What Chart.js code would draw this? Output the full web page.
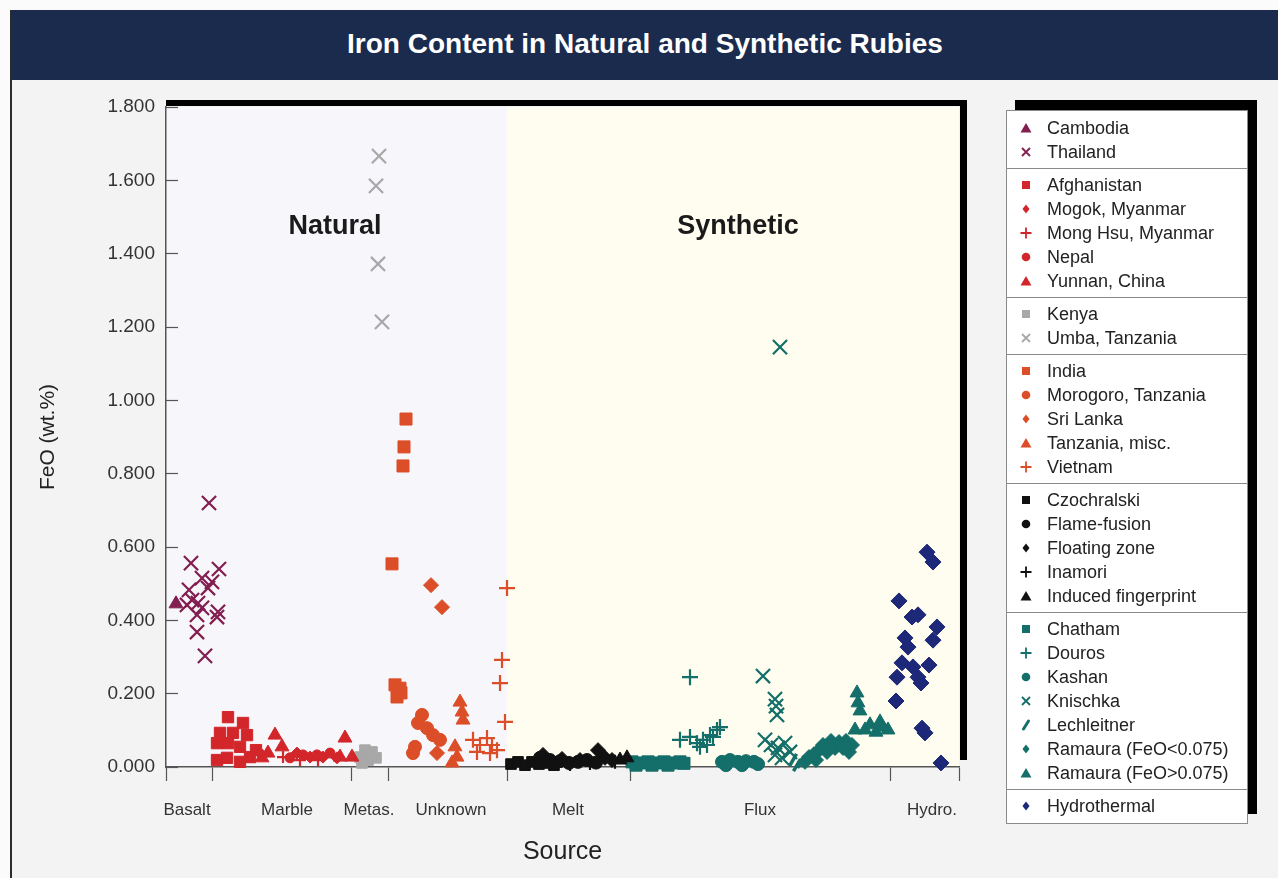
<!DOCTYPE html>
<html>
<head>
<meta charset="utf-8">
<title>Iron Content in Natural and Synthetic Rubies</title>
<script src="https://cdn.jsdelivr.net/npm/chart.js@4.4.1/dist/chart.umd.min.js"></script>
<style>
html, body { margin: 0; padding: 0; }
body { width: 1278px; height: 878px; position: relative; overflow: hidden; background: #fbfbfb;
  font-family: "Liberation Sans", Arial, Helvetica, sans-serif; }
#page { position: absolute; left: 10px; top: 10px; right: 0; bottom: 0; background: #f3f3f3; border-left: 2px solid #2b2b2b; }
#titlebar { position: absolute; left: 12px; top: 10px; width: 1266px; height: 70px; background: #1b2b4d;
  color: #fff; font-weight: bold; font-size: 28px; text-align: center; line-height: 68px; z-index: 2; }
#chart { position: absolute; left: 0; top: 0; z-index: 1; }
.region { position: absolute; top: 212px; font-size: 27px; line-height: 27px; font-weight: bold; color: #1a1a1a;
  transform: translateX(-50%); z-index: 2; }
#legend { position: absolute; left: 1006px; top: 110px; width: 240px; background: #fff; border: 1px solid #8a8a8a;
  box-shadow: 9px -10px 0 #000; z-index: 2; }
.grp { padding: 4px 0; border-top: 1px solid #8a8a8a; }
.grp:first-child { border-top: none; padding-top: 5px; }
.grp:last-child { padding-bottom: 5px; }
.row { height: 24px; display: flex; align-items: center; font-size: 18px; color: #222; white-space: nowrap; }
.row svg { width: 14px; height: 14px; margin-left: 12px; margin-right: 14px; flex: none; }
</style>
</head>
<body>
<div id="page"></div>
<div id="titlebar">Iron Content in Natural and Synthetic Rubies</div>
<canvas id="chart" width="1278" height="878"></canvas>
<div class="region" style="left:335px">Natural</div>
<div class="region" style="left:738px">Synthetic</div>
<div id="legend"></div>

<script>
// x axis: position along the source axis, y: FeO wt.%
const sourceLabels = ['Basalt', 'Marble', 'Metas.', 'Unknown', 'Melt', 'Flux', 'Hydro.'];
const labelPos = [21, 121, 203, 285, 402, 594, 766];
const boundaries = [0, 46, 185, 222, 341, 464, 724, 793];
const naturalEnd = 341;
const yTicks = [0, 0.2, 0.4, 0.6, 0.8, 1.0, 1.2, 1.4, 1.6, 1.8];

// Basalt
const cambodiaX = [10];
const cambodiaY = [0.445];
const thailandX = [43, 25, 53, 36, 46, 42, 23, 26, 32, 21, 36, 31, 51, 52, 31, 39];
const thailandY = [0.720, 0.556, 0.540, 0.515, 0.505, 0.488, 0.483, 0.455, 0.447, 0.442, 0.434, 0.415, 0.409, 0.423, 0.368, 0.303];

// Marble
const afghanX = [62, 77, 54, 67, 81, 51, 62, 74, 51, 61, 84, 74, 90];
const afghanY = [0.136, 0.120, 0.093, 0.093, 0.087, 0.065, 0.065, 0.055, 0.019, 0.025, 0.027, 0.014, 0.046];
const mogokX = [96, 131, 144, 157, 171];
const mogokY = [0.033, 0.038, 0.027, 0.027, 0.025];
const mongHsuX = [117, 134, 152];
const mongHsuY = [0.027, 0.019, 0.019];
const nepalX = [137, 151, 164, 124];
const nepalY = [0.033, 0.033, 0.038, 0.025];
const yunnanX = [109, 102, 116, 179, 174, 186, 96];
const yunnanY = [0.087, 0.038, 0.055, 0.079, 0.027, 0.027, 0.025];

// Metasomatic
const kenyaX = [194, 202, 206, 199, 210, 196];
const kenyaY = [0.027, 0.019, 0.041, 0.046, 0.025, 0.011];
const umbaX = [213, 210, 212, 216];
const umbaY = [1.666, 1.585, 1.372, 1.214];

// Unknown
const indiaX = [240, 238, 237, 226, 229, 234, 231, 235];
const indiaY = [0.949, 0.873, 0.821, 0.554, 0.224, 0.215, 0.191, 0.202];
const morogoroX = [256, 252, 261, 267, 274, 249, 247];
const morogoroY = [0.142, 0.120, 0.106, 0.087, 0.074, 0.055, 0.038];
const sriLankaX = [265, 276, 271];
const sriLankaY = [0.496, 0.436, 0.038];
const tanzaniaX = [294, 296, 297, 289, 291, 286];
const tanzaniaY = [0.177, 0.150, 0.128, 0.055, 0.027, 0.011];
const vietnamX = [341, 336, 334, 339, 307, 314, 321, 326, 311, 324, 331];
const vietnamY = [0.488, 0.292, 0.229, 0.123, 0.074, 0.060, 0.079, 0.060, 0.041, 0.038, 0.046];

// Melt
const czochX = [345, 352, 359, 366, 373, 380, 388];
const czochY = [0.008, 0.014, 0.005, 0.014, 0.008, 0.011, 0.005];
const flameX = [374, 384, 394, 403, 412, 421, 430];
const flameY = [0.025, 0.019, 0.016, 0.011, 0.014, 0.019, 0.012];
const floatX = [377, 432, 439, 414, 446, 396];
const floatY = [0.033, 0.046, 0.025, 0.019, 0.019, 0.022];
const inamoriX = [424, 449, 404];
const inamoriY = [0.011, 0.014, 0.008];
const inducedX = [454, 461];
const inducedY = [0.019, 0.025];

// Flux
const chathamX = [466, 474, 482, 490, 498, 506, 514, 518, 470, 486, 502];
const chathamY = [0.014, 0.011, 0.014, 0.011, 0.014, 0.011, 0.014, 0.010, 0.005, 0.005, 0.005];
const dourosX = [524, 514, 524, 531, 537, 544, 551, 554, 534, 541, 547];
const dourosY = [0.245, 0.074, 0.082, 0.065, 0.074, 0.087, 0.101, 0.109, 0.055, 0.060, 0.082];
const kashanX = [556, 564, 572, 580, 588, 560, 576, 592];
const kashanY = [0.014, 0.019, 0.014, 0.016, 0.014, 0.005, 0.005, 0.008];
const knischkaX = [614, 597, 609, 610, 611, 599, 605, 612, 619, 624, 609, 616];
const knischkaY = [1.145, 0.248, 0.185, 0.166, 0.142, 0.074, 0.060, 0.052, 0.065, 0.041, 0.033, 0.025];
const lechX = [627, 631, 635];
const lechY = [0.019, 0.005, 0.014];
const ramLowX = [639, 643, 648, 653, 657, 661, 665, 669, 673, 677, 680, 683, 686, 650];
const ramLowY = [0.014, 0.027, 0.035, 0.046, 0.060, 0.041, 0.071, 0.052, 0.068, 0.052, 0.071, 0.041, 0.060, 0.019];
const ramHighX = [691, 692, 694, 689, 699, 704, 710, 716, 722, 714];
const ramHighY = [0.202, 0.175, 0.153, 0.101, 0.101, 0.115, 0.095, 0.109, 0.101, 0.123];

// Hydrothermal
const hydroX = [761, 767, 733, 746, 752, 771, 767, 739, 742, 763, 736, 747, 731, 752, 755, 730, 756, 759, 775];
const hydroY = [0.586, 0.559, 0.453, 0.409, 0.415, 0.382, 0.346, 0.352, 0.327, 0.278, 0.284, 0.273, 0.245, 0.245, 0.229, 0.180, 0.106, 0.093, 0.011];

const maroon = '#821e50', red = '#d2262a', grey = '#a8a8a8', orange = '#dc4e28',
  black = '#111111', teal = '#146e69', navy = '#1e2878';

const radius = { rect: 8, rectRot: 7.5, triangle: 8, crossRot: 10, cross: 8, circle: 6.5, line: 7 };
const stroked = ['cross', 'crossRot', 'line'];

function series(label, xs, ys, color, style, group, r) {
  return {
    label, group,
    data: xs.map((x, i) => ({ x, y: ys[i] })),
    pointStyle: style,
    pointRadius: r || radius[style],
    pointRotation: style === 'line' ? -60 : 0,
    backgroundColor: color,
    borderColor: color,
    borderWidth: style === 'line' ? 3.5 : (stroked.includes(style) ? 2.2 : 1),
    clip: false,
  };
}

const datasets = [
  series('Cambodia', cambodiaX, cambodiaY, maroon, 'triangle', 0),
  series('Thailand', thailandX, thailandY, maroon, 'crossRot', 0),
  series('Afghanistan', afghanX, afghanY, red, 'rect', 1),
  series('Mogok, Myanmar', mogokX, mogokY, red, 'rectRot', 1, 6),
  series('Mong Hsu, Myanmar', mongHsuX, mongHsuY, red, 'cross', 1, 6),
  series('Nepal', nepalX, nepalY, red, 'circle', 1, 5),
  series('Yunnan, China', yunnanX, yunnanY, red, 'triangle', 1),
  series('Kenya', kenyaX, kenyaY, grey, 'rect', 2, 7.5),
  series('Umba, Tanzania', umbaX, umbaY, grey, 'crossRot', 2),
  series('India', indiaX, indiaY, orange, 'rect', 3, 8.5),
  series('Morogoro, Tanzania', morogoroX, morogoroY, orange, 'circle', 3),
  series('Sri Lanka', sriLankaX, sriLankaY, orange, 'rectRot', 3),
  series('Tanzania, misc.', tanzaniaX, tanzaniaY, orange, 'triangle', 3),
  series('Vietnam', vietnamX, vietnamY, orange, 'cross', 3),
  series('Czochralski', czochX, czochY, black, 'rect', 4, 7.5),
  series('Flame-fusion', flameX, flameY, black, 'circle', 4, 6.5),
  series('Floating zone', floatX, floatY, black, 'rectRot', 4, 7.5),
  series('Inamori', inamoriX, inamoriY, black, 'cross', 4, 7),
  series('Induced fingerprint', inducedX, inducedY, black, 'triangle', 4, 8),
  series('Chatham', chathamX, chathamY, teal, 'rect', 5, 8.5),
  series('Douros', dourosX, dourosY, teal, 'cross', 5),
  series('Kashan', kashanX, kashanY, teal, 'circle', 5, 6.5),
  series('Knischka', knischkaX, knischkaY, teal, 'crossRot', 5),
  series('Lechleitner', lechX, lechY, teal, 'line', 5),
  series('Ramaura (FeO<0.075)', ramLowX, ramLowY, teal, 'rectRot', 5),
  series('Ramaura (FeO>0.075)', ramHighX, ramHighY, teal, 'triangle', 5),
  series('Hydrothermal', hydroX, hydroY, navy, 'rectRot', 6, 8),
];

// shaded natural / synthetic halves plus the black drop shadow of the panel
const panel = {
  id: 'panel',
  beforeDraw(chart) {
    const { ctx, chartArea: a, scales: { x } } = chart;
    const split = x.getPixelForValue(naturalEnd);
    ctx.save();
    ctx.fillStyle = '#f7f6fb';
    ctx.fillRect(a.left, a.top, split - a.left, a.bottom - a.top);
    ctx.fillStyle = '#fefdf0';
    ctx.fillRect(split, a.top, a.right - split, a.bottom - a.top);
    ctx.fillStyle = '#000';
    ctx.fillRect(a.left, a.top - 7, a.right - a.left + 8, 6);
    ctx.fillRect(a.right + 1, a.top - 7, 7, a.bottom - a.top);
    ctx.restore();
  }
};

const font = '"Liberation Sans", Arial, Helvetica, sans-serif';

new Chart(document.getElementById('chart'), {
  type: 'scatter',
  data: { datasets },
  plugins: [panel],
  options: {
    responsive: false,
    animation: false,
    layout: { padding: { left: 0, top: 107, right: 319, bottom: 0 } },
    plugins: { legend: { display: false }, tooltip: { enabled: false } },
    scales: {
      x: {
        type: 'linear', min: 0, max: 793,
        afterBuildTicks(s) {
          s.ticks = boundaries.concat(labelPos).sort((a, b) => a - b).map(v => ({ value: v }));
        },
        afterFit(s) { s.height = 111; },
        ticks: {
          autoSkip: false, maxRotation: 0, minRotation: 0, padding: 19, color: '#333',
          font: { family: font, size: 17 },
          callback: (v) => { const i = labelPos.indexOf(v); return i < 0 ? '' : sourceLabels[i]; }
        },
        grid: {
          drawOnChartArea: false, tickLength: 14, tickWidth: 1.2,
          tickColor: (c) => boundaries.includes(c.tick && c.tick.value) ? '#555' : 'rgba(0,0,0,0)'
        },
        border: { color: '#555', width: 1.5 },
        title: { display: true, text: 'Source', color: '#222', font: { family: font, size: 25 }, padding: { top: 0, bottom: 11 } }
      },
      y: {
        min: 0, max: 1.8,
        afterBuildTicks(s) { s.ticks = yTicks.map(v => ({ value: v })); },
        afterFit(s) { s.width = 166; },
        ticks: { padding: 23, color: '#333', font: { family: font, size: 19 }, callback: v => v.toFixed(3) },
        grid: { drawOnChartArea: false, tickLength: -12, tickColor: '#555', tickWidth: 1.2 },
        border: { color: '#555', width: 1.5 },
        title: { display: true, text: 'FeO (wt.%)', color: '#222', font: { family: font, size: 21 }, padding: { top: 36, bottom: 0 } }
      }
    }
  }
});

// grouped legend box on the right
function marker(style, color) {
  const s = {
    triangle: `<polygon points="7,2 12.5,11.5 1.5,11.5" fill="${color}"/>`,
    crossRot: `<path d="M3,3 L11,11 M11,3 L3,11" stroke="${color}" stroke-width="1.8"/>`,
    rect: `<rect x="3" y="3" width="8" height="8" fill="${color}"/>`,
    rectRot: `<polygon points="7,2.5 10.5,7 7,11.5 3.5,7" fill="${color}"/>`,
    cross: `<path d="M7,1.5 V12.5 M1.5,7 H12.5" stroke="${color}" stroke-width="1.8"/>`,
    circle: `<circle cx="7" cy="7" r="4.3" fill="${color}"/>`,
    line: `<path d="M4.5,11 L9.5,3" stroke="${color}" stroke-width="3" stroke-linecap="round"/>`,
  }[style];
  return `<svg viewBox="0 0 14 14">${s}</svg>`;
}

const legend = document.getElementById('legend');
let html = '';
for (let g = 0; g <= 6; g++) {
  html += '<div class="grp">';
  datasets.filter(d => d.group === g).forEach(d => {
    html += `<div class="row">${marker(d.pointStyle, d.borderColor)}<span>${d.label}</span></div>`;
  });
  html += '</div>';
}
legend.innerHTML = html;
</script>
</body>
</html>
